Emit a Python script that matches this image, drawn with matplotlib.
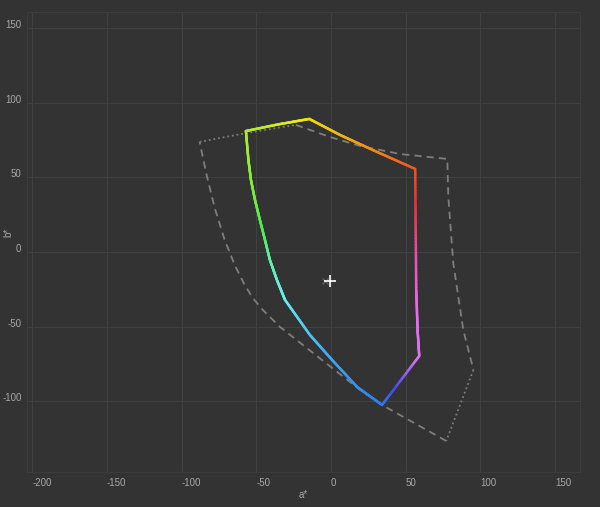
import matplotlib
matplotlib.use('Agg')
import matplotlib.pyplot as plt
from matplotlib.collections import LineCollection
from matplotlib.colors import hsv_to_rgb
import numpy as np

# coloured gamut boundary (a*, b*)
gamut_a = [-14.5, -35.0, -57.0, -55.3, -53.6, -50.9, -47.6, -44.2, -40.9, -36.2, -30.8,
           -14.1, 0.7, 17.5, 34.2, 59.1, 58.0, 57.1, 56.4, 29.5, 6.0, -14.5]
gamut_b = [89.1, 85.5, 81.0, 61.6, 48.2, 34.8, 21.4, 8.0, -5.4, -18.8, -32.1,
           -55.6, -72.3, -90.4, -102.5, -69.7, -52.2, -25.5, 55.6, 67.6, 78.4, 89.1]

# reference gamut (grey outline)
ref_a = [-88.0, -56.4, -23.5, -0.7, 19.5, 46.3, 77.9, 78.6, 81.9, 88.6, 95.4,
         77.2, 34.2, 19.5, -34.2, -45.7, -52.4, -57.8, -64.5, -71.2, -77.9, -83.3, -88.0]
ref_b = [73.7, 79.7, 85.1, 77.0, 71.0, 65.6, 62.3, 36.8, -7.4, -52.2, -79.0,
         -126.6, -102.5, -92.4, -50.2, -38.8, -30.8, -22.1, -8.7, 8.0, 29.5, 51.6, 73.7]

white_point = (-0.7, -19.4)

x_ticks = [-200, -150, -100, -50, 0, 50, 100, 150]
y_ticks = [-100, -50, 0, 50, 100, 150]

bg = '#333333'
txt = '#a8a8a8'
plt.rcParams['font.family'] = ['Liberation Sans', 'DejaVu Sans']
plt.rcParams['axes.unicode_minus'] = False

fig = plt.figure(figsize=(6, 5.07), dpi=100, facecolor=bg)
ax = fig.add_axes([0.045, 0.069, 0.9217, 0.9073], facecolor=bg)
ax.set_xlim(-203.6, 166.8)
ax.set_ylim(-147.4, 160.7)

ax.set_xticks(x_ticks)
ax.set_yticks(y_ticks)
ax.tick_params(length=0, colors=txt, labelsize=7)
for lab in ax.get_xticklabels():
    lab.set_ha('left')
for lab in ax.get_yticklabels():
    lab.set_va('baseline')
ax.tick_params(axis='x', pad=4)
ax.tick_params(axis='y', pad=4)
ax.grid(True, color='#414141', lw=0.8)
ax.set_axisbelow(True)
for s in ax.spines.values():
    s.set_color('#3c3c3c')
    s.set_linewidth(0.8)

ax.set_xlabel('a*', color=txt, fontsize=7, labelpad=2)
ax.set_ylabel('b*', color=txt, fontsize=7)
ax.yaxis.set_label_coords(-0.024, 0.52)

# grey reference outline: dotted on some edges, dashed elsewhere
ra = np.array(ref_a)
rb = np.array(ref_b)
grey = '#7e7e7e'
pieces = [(0, 3, (0, (1, 1.6))), (2, 11, (0, (4, 2.8))),
          (10, 12, (0, (1, 1.6))), (11, len(ra), (0, (4, 2.8)))]
for i0, i1, ls in pieces:
    ax.plot(ra[i0:i1], rb[i0:i1], color=grey, lw=1.3, ls=ls)

# coloured gamut boundary, coloured by hue
ga = np.array(gamut_a)
gb = np.array(gamut_b)
pts = []
for k in range(len(ga) - 1):
    t = np.linspace(0, 1, 40, endpoint=False)
    pts.append(np.column_stack([ga[k] + (ga[k+1] - ga[k]) * t,
                                gb[k] + (gb[k+1] - gb[k]) * t]))
pts.append([[ga[-1], gb[-1]]])
pts = np.vstack(pts)
segs = np.stack([pts[:-1], pts[1:]], axis=1)
mid = (pts[:-1] + pts[1:]) / 2
lab_h = np.degrees(np.arctan2(mid[:, 1], mid[:, 0])) % 360
lab_h = np.where(lab_h < 45, lab_h + 360, lab_h)
h = np.interp(lab_h, [45, 99, 125, 187, 227, 288, 310, 360, 405],
              [15, 55, 80, 150, 180, 215, 290, 325, 375]) % 360
sat = np.interp(lab_h, [45, 99, 125, 187, 227, 288, 310, 405],
                [0.85, 0.95, 0.8, 0.6, 0.55, 0.8, 0.5, 0.85])
hsv = np.column_stack([h / 360, sat, np.full_like(h, 0.93)])
cols = hsv_to_rgb(hsv)
lc = LineCollection(segs, colors=cols, linewidths=1.8, capstyle='round', joinstyle='round')
ax.add_collection(lc)

# white point
ax.plot(white_point[0] - 3, white_point[1], marker='x', color='#5e5e5e', ms=4, mew=1)
ax.plot(white_point[0], white_point[1], marker='+', color='white', ms=8, mew=1.2)

fig.savefig('out.png', dpi=100, facecolor=bg)
